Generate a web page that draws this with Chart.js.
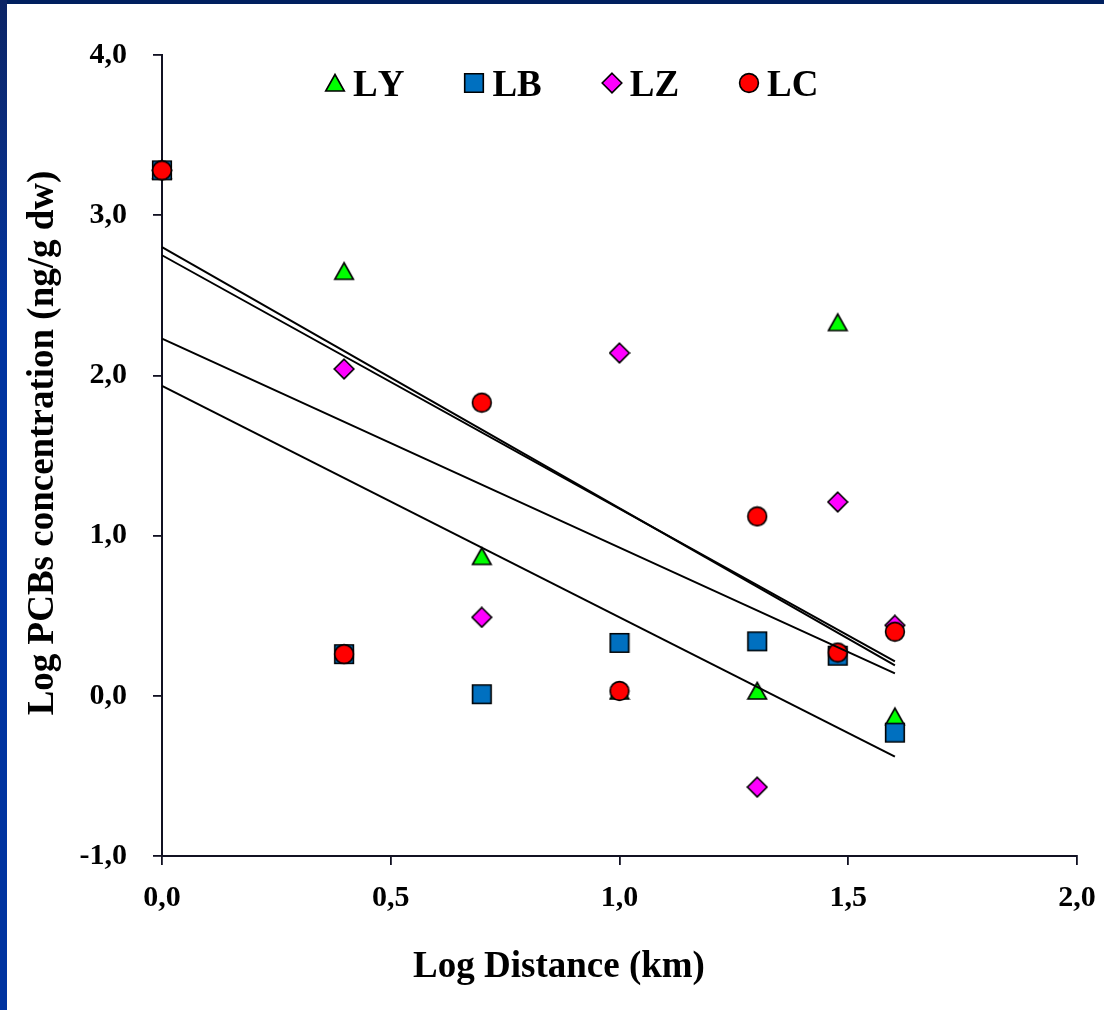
<!DOCTYPE html>
<html>
<head>
<meta charset="utf-8">
<title>Log PCBs concentration vs Log Distance</title>
<script src="https://cdn.jsdelivr.net/npm/chart.js@4.4.1/dist/chart.umd.min.js"></script>
<style>
  html, body { margin: 0; padding: 0; background: #fff; }
  #wrap { position: relative; width: 1104px; height: 1010px; overflow: hidden; background: #fff; }
  #chart { position: absolute; left: 0; top: 0; }
  #bandTop { position: absolute; left: 0; top: 0; width: 1104px; height: 4px; background: #00205f; }
  #bandLeft { position: absolute; left: 0; top: 0; width: 7px; height: 1010px;
              background: linear-gradient(to bottom, #0b2465 0px, #0a2d80 150px, #0034a0 320px, #0033a0 1010px); }
</style>
</head>
<body>
<div id="wrap">
  <canvas id="chart" width="1104" height="1010"></canvas>
  <div id="bandTop"></div>
  <div id="bandLeft"></div>
</div>
<script>
// Log10 of sampling distance (km): 1, 2.5, 5, 10, 20, 30, 40
const distanceLog = [0, 0.398, 0.699, 1.0, 1.301, 1.477, 1.602];

// Log PCBs concentration (ng/g dw) per site
const valuesLY = [3.28, 2.65, 0.87, 0.03, 0.03, 2.33, -0.13];
const valuesLB = [3.28, 0.26, 0.01, 0.33, 0.34, 0.25, -0.23];
const valuesLZ = [3.28, 2.04, 0.49, 2.14, -0.57, 1.21, 0.44];
const valuesLC = [3.28, 0.26, 1.83, 0.03, 1.12, 0.27, 0.40];

// Linear trend lines (start / end values)
const fitX  = [0, 1.602];
const fitLY = [2.80, 0.19];
const fitLZ = [2.75, 0.215];
const fitLC = [2.23, 0.14];
const fitLB = [1.935, -0.38];

const seriesNames = ['LY', 'LB', 'LZ', 'LC'];
const xTitle = 'Log Distance (km)';
const yTitle = 'Log PCBs concentration (ng/g dw)';

const FONT = '"Liberation Serif", "Times New Roman", serif';

// Marker sprites
function makeMarker(kind, fill) {
  const c = document.createElement('canvas');
  const s = 22;
  c.width = s; c.height = s;
  const g = c.getContext('2d');
  g.fillStyle = fill;
  g.strokeStyle = '#000';
  g.lineWidth = 1.6;
  g.lineJoin = 'miter';
  g.beginPath();
  const m = s / 2;
  if (kind === 'triangle') {
    g.moveTo(m, m - 8.5);
    g.lineTo(m + 9.3, m + 8);
    g.lineTo(m - 9.3, m + 8);
    g.closePath();
  } else if (kind === 'square') {
    g.rect(m - 9.3, m - 9.3, 18.6, 18.6);
  } else if (kind === 'diamond') {
    g.moveTo(m, m - 9.8);
    g.lineTo(m + 9.8, m);
    g.lineTo(m, m + 9.8);
    g.lineTo(m - 9.8, m);
    g.closePath();
  } else {
    g.arc(m, m, 9.4, 0, Math.PI * 2);
  }
  g.fill();
  g.stroke();
  return c;
}

const markerLY = makeMarker('triangle', '#00ff00');
const markerLB = makeMarker('square', '#0070c0');
const markerLZ = makeMarker('diamond', '#ff00ff');
const markerLC = makeMarker('circle', '#ff0000');
const markers = [markerLY, markerLB, markerLZ, markerLC];

function pts(xs, ys) { return xs.map((x, i) => ({ x: x, y: ys[i] })); }

function pointSet(label, ys, marker, order) {
  return {
    type: 'scatter', label: label, data: pts(distanceLog, ys),
    pointStyle: marker, pointRadius: 9.5, pointHoverRadius: 9.5,
    showLine: false, clip: false, order: order
  };
}
function fitSet(ys) {
  return {
    type: 'line', data: pts(fitX, ys), borderColor: '#000', borderWidth: 2,
    pointRadius: 0, fill: false, tension: 0, order: 0, clip: false
  };
}

const decorations = {
  id: 'decorations',
  afterDraw(chart) {
    const ctx = chart.ctx;
    ctx.save();
    ctx.fillStyle = '#000';
    ctx.textBaseline = 'alphabetic';
    if ('fontKerning' in ctx) ctx.fontKerning = 'none';

    // axis titles
    ctx.font = 'bold 37px ' + FONT;
    ctx.textAlign = 'center';
    ctx.fillText(xTitle, 559, 977);
    ctx.save();
    ctx.translate(53, 443);
    ctx.rotate(-Math.PI / 2);
    ctx.fillText(yTitle, 0, 0);
    ctx.restore();

    // legend row
    ctx.font = 'bold 37px ' + FONT;
    ctx.textAlign = 'left';
    let x = 335;
    const yc = 83;
    seriesNames.forEach((name, i) => {
      const img = markers[i];
      ctx.drawImage(img, Math.round(x - img.width / 2), Math.round(yc - img.height / 2));
      const tx = x + 18;
      ctx.fillText(name, tx, 96);
      x = tx + ctx.measureText(name).width + 70;
    });
    ctx.restore();
  }
};

const fmt = v => Number(v).toFixed(1).replace('.', ',');

new Chart(document.getElementById('chart'), {
  data: {
    datasets: [
      pointSet(seriesNames[0], valuesLY, markerLY, 4),
      pointSet(seriesNames[1], valuesLB, markerLB, 3),
      pointSet(seriesNames[2], valuesLZ, markerLZ, 2),
      pointSet(seriesNames[3], valuesLC, markerLC, 1),
      fitSet(fitLY), fitSet(fitLZ), fitSet(fitLC), fitSet(fitLB)
    ]
  },
  options: {
    responsive: false,
    animation: false,
    devicePixelRatio: 1,
    layout: { padding: { left: 0, right: 27, top: 55, bottom: 0 } },
    plugins: { legend: { display: false }, tooltip: { enabled: false }, title: { display: false } },
    scales: {
      x: {
        type: 'linear', position: 'bottom', min: 0, max: 2,
        afterFit(scale) { scale.height = 154; scale.paddingLeft = 0; scale.paddingRight = 0; },
        ticks: { stepSize: 0.5, callback: fmt, color: '#000', padding: 15,
                 font: { family: FONT, size: 30, weight: 'bold' }, maxRotation: 0 },
        grid: { display: true, drawOnChartArea: false, drawTicks: true, tickLength: 9,
                color: '#111122', lineWidth: 1.8 },
        border: { display: true, color: '#111122', width: 2 }
      },
      y: {
        type: 'linear', position: 'left', min: -1, max: 4,
        afterFit(scale) { scale.width = 162; scale.paddingTop = 0; scale.paddingBottom = 0; },
        ticks: { stepSize: 1, callback: fmt, color: '#000', padding: 26,
                 font: { family: FONT, size: 30, weight: 'bold' } },
        grid: { display: true, drawOnChartArea: false, drawTicks: true, tickLength: 9,
                color: '#111122', lineWidth: 1.8 },
        border: { display: true, color: '#111122', width: 2 }
      }
    }
  },
  plugins: [decorations]
});
</script>
</body>
</html>
